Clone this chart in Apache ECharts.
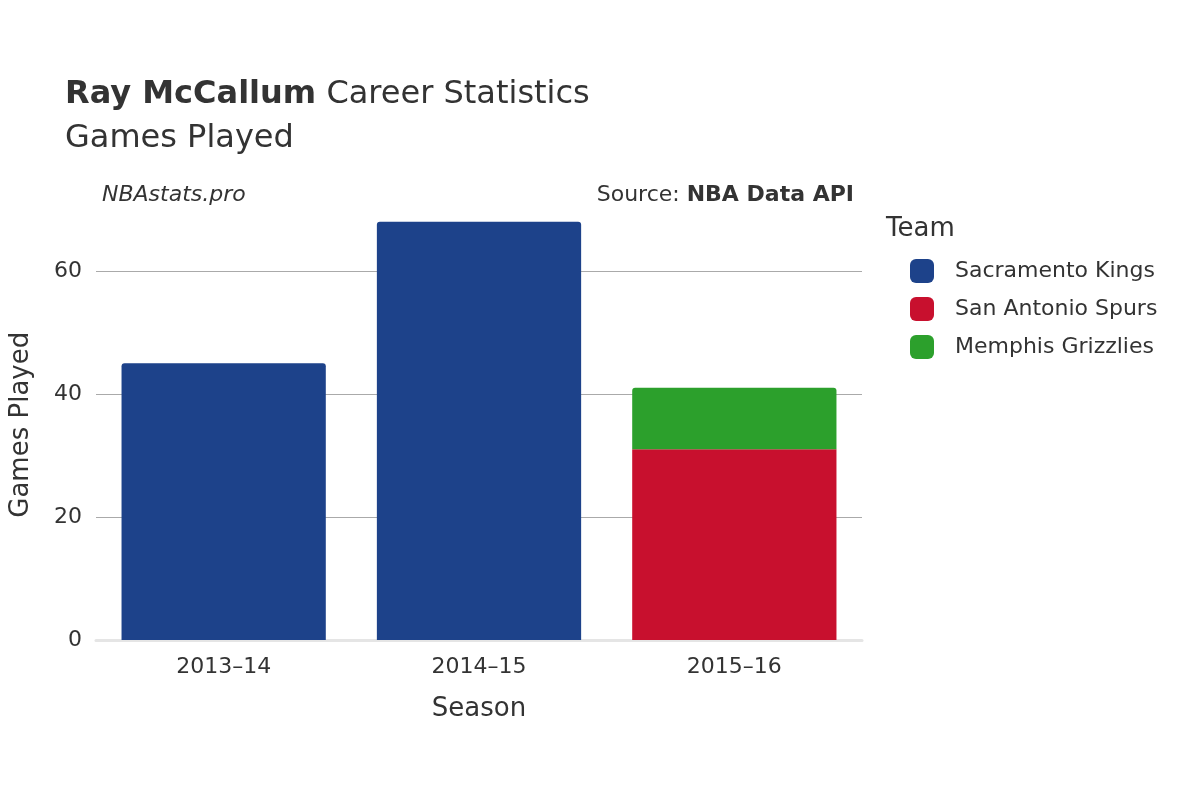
<!DOCTYPE html>
<html><head><meta charset="utf-8">
<script src="https://cdn.jsdelivr.net/npm/echarts@6/dist/echarts.min.js"></script>
<style>html,body{margin:0;background:#fff}#c{width:1200px;height:800px}</style>
</head><body><div id="c"></div>
<script>
const seasons = ['2013–14','2014–15','2015–16'];
const kings = [45, 68, null];
const spurs = [null, null, 31];
const grizzlies = [null, null, 10];
const F = '"DejaVu Sans", sans-serif';
const chart = echarts.init(document.getElementById('c'));
const r = [3,3,0,0];
chart.setOption({
  animation:false,
  textStyle:{fontFamily:F},
  title:[
    {text:'{b|Ray McCallum} Career Statistics\nGames Played',left:60,top:68,
     textStyle:{fontFamily:F,fontSize:32,color:'#333',fontWeight:'normal',lineHeight:44,
       rich:{b:{fontFamily:F,fontSize:32,fontWeight:'bold',color:'#333'}}}},
    {text:'NBAstats.pro',left:97,top:179,textStyle:{fontFamily:F,fontSize:22,fontStyle:'italic',fontWeight:'normal',color:'#333'}},
    {text:'Source: {b|NBA Data API}',right:341,top:179,textStyle:{fontFamily:F,fontSize:22,fontWeight:'normal',color:'#333',
       rich:{b:{fontFamily:F,fontSize:22,fontWeight:'bold',color:'#333'}}}},
    {text:'Team',left:881,top:211,textStyle:{fontFamily:F,fontSize:26,fontWeight:'normal',color:'#333'}}
  ],
  legend:{orient:'vertical',left:905,top:254,itemWidth:24,itemHeight:24,itemGap:14,icon:'roundRect',
    textStyle:{fontFamily:F,fontSize:22,color:'#333',padding:[0,0,0,16]}},
  grid:{left:92,right:338,top:209.5,bottom:160},
  xAxis:{type:'category',data:seasons,name:'Season',nameLocation:'middle',nameGap:56,
    nameTextStyle:{fontFamily:F,fontSize:26,color:'#333'},
    axisLine:{lineStyle:{color:'#e5e5e5',width:3}},axisTick:{show:false},
    axisLabel:{fontFamily:F,fontSize:22,color:'#333',margin:16}},
  yAxis:{type:'value',min:0,max:70,interval:20,name:'Games Played',nameLocation:'middle',nameGap:62,
    nameTextStyle:{fontFamily:F,fontSize:26,color:'#333'},
    axisLabel:{fontFamily:F,fontSize:22,color:'#333',showMaxLabel:false,margin:14},
    splitLine:{lineStyle:{color:'#aaa',width:1},showMaxLine:false}},
  series:[
    {name:'Sacramento Kings',type:'bar',stack:'a',data:kings,barCategoryGap:'20%',itemStyle:{color:'#1d428a',borderRadius:r}},
    {name:'San Antonio Spurs',type:'bar',stack:'a',data:spurs,itemStyle:{color:'#c8102e'}},
    {name:'Memphis Grizzlies',type:'bar',stack:'a',data:grizzlies,itemStyle:{color:'#2ca02c',borderRadius:r,borderColor:'#fff',borderWidth:0}}
  ]
});
</script></body></html>
